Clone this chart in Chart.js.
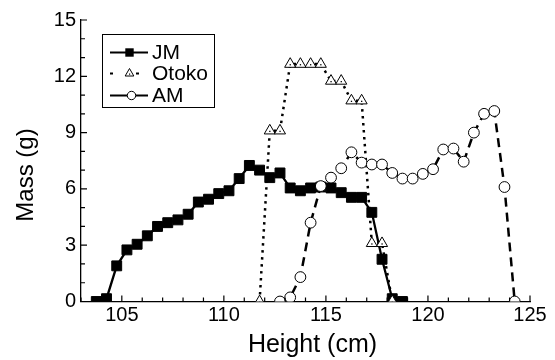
<!DOCTYPE html>
<html><head><meta charset="utf-8">
<script src="https://cdn.jsdelivr.net/npm/chart.js@4.4.1/dist/chart.umd.min.js"></script>
<style>html,body{margin:0;padding:0;background:#fff;}canvas{display:block;}</style>
</head><body>
<canvas id="c" width="555" height="360"></canvas>
<script>
const seriesNames = ['JM', 'Otoko', 'AM'];
const jmHeight = [103.75,104.25,104.75,105.25,105.75,106.25,106.75,107.25,107.75,108.25,108.75,109.25,109.75,110.25,110.75,111.25,111.75,112.25,112.75,113.25,113.75,114.25,114.75,115.25,115.75,116.25,116.75,117.25,117.75,118.25,118.75];
const jmMass = [0,0.15,1.9,2.75,3.05,3.5,4.0,4.2,4.35,4.65,5.3,5.45,5.75,5.9,6.55,7.25,7.0,6.6,6.85,6.05,5.9,6.05,6.1,6.05,5.8,5.55,5.55,4.75,2.25,0.15,0];
const otokoHeight = [111.75,112.25,112.75,113.25,113.75,114.25,114.75,115.25,115.75,116.25,116.75,117.25,117.75,118.25];
const otokoMass = [0,9.1,9.1,12.65,12.65,12.65,12.65,11.75,11.75,10.7,10.7,3.1,3.1,0];
const amHeight = [112.75,113.25,113.75,114.25,114.75,115.25,115.75,116.25,116.75,117.25,117.75,118.25,118.75,119.25,119.75,120.25,120.75,121.25,121.75,122.25,122.75,123.25,123.75,124.25];
const amMass = [0,0.22,1.3,4.2,6.15,6.6,7.1,7.95,7.4,7.3,7.3,6.85,6.55,6.55,6.8,7.05,8.1,8.15,7.45,9.0,10.0,10.15,6.1,0];
const xTickLabels = [105,110,115,120,125];
const yTickLabels = [0,3,6,9,12,15];
const xTitle = 'Height (cm)';
const yTitle = 'Mass (g)';

const FONT = '"Liberation Sans", Arial, sans-serif';
const pts = (xs, ys) => xs.map((x, i) => ({x: x, y: ys[i]}));
const bottomClip = {left: false, top: false, right: false, bottom: 0};

const inwardTicks = {
  id: 'inwardTicks',
  afterDraw(chart) {
    const ctx = chart.ctx, xs = chart.scales.x, ys = chart.scales.y, a = chart.chartArea;
    ctx.save();
    ctx.strokeStyle = '#000'; ctx.lineWidth = 1.2;
    ctx.beginPath();
    for (let v = ys.min; v <= ys.max; v += 1) {
      const p = ys.getPixelForValue(v);
      const len = yTickLabels.includes(v) ? 6 : 4;
      ctx.moveTo(a.left, p); ctx.lineTo(a.left + len, p);
    }
    for (let v = xs.min; v <= xs.max; v += 1) {
      const p = xs.getPixelForValue(v);
      const len = xTickLabels.includes(v) ? 6 : 4;
      ctx.moveTo(p, a.bottom); ctx.lineTo(p, a.bottom - len);
    }
    ctx.stroke();
    ctx.fillStyle = '#000';
    ctx.font = '25px ' + FONT;
    ctx.textAlign = 'center'; ctx.textBaseline = 'alphabetic';
    ctx.fillText(xTitle, 312.5, 351.5);
    ctx.save();
    ctx.translate(26, 175); ctx.rotate(-Math.PI / 2);
    ctx.font = '24px ' + FONT; ctx.textBaseline = 'middle';
    ctx.fillText(yTitle, 0, 0);
    ctx.restore();
    ctx.restore();
  }
};

const triDots = {
  id: 'triDots',
  afterDatasetsDraw(chart) {
    const ctx = chart.ctx, a = chart.chartArea;
    const meta = chart.getDatasetMeta(1);
    ctx.save();
    ctx.beginPath(); ctx.rect(a.left, 0, a.right - a.left + 20, a.bottom); ctx.clip();
    ctx.fillStyle = '#000';
    meta.data.forEach(pt => { ctx.fillRect(pt.x - 0.6, pt.y, 1.3, 1.3); });
    ctx.restore();
  }
};

const boxLegend = {
  id: 'boxLegend',
  afterDraw(chart) {
    const ctx = chart.ctx;
    ctx.save();
    ctx.fillStyle = '#fff';
    ctx.fillRect(102.5, 34.5, 112, 73);
    ctx.strokeStyle = '#000'; ctx.lineWidth = 1;
    ctx.strokeRect(102.5, 34.5, 112, 73);
    const rows = [52.5, 73.5, 95.5];
    const mx = 129.5;
    ctx.lineWidth = 2.2; ctx.beginPath(); ctx.moveTo(110, rows[0]); ctx.lineTo(148, rows[0]); ctx.stroke();
    ctx.fillStyle = '#000'; ctx.fillRect(mx - 4.2, rows[0] - 4.2, 8.4, 8.4);
    ctx.setLineDash([3, 23]); ctx.lineWidth = 2.2;
    ctx.beginPath(); ctx.moveTo(110, rows[1]); ctx.lineTo(148, rows[1]); ctx.stroke();
    ctx.setLineDash([]);
    const r = 5;
    ctx.beginPath();
    ctx.moveTo(mx, rows[1] - r); ctx.lineTo(mx + r * 0.866, rows[1] + r / 2); ctx.lineTo(mx - r * 0.866, rows[1] + r / 2); ctx.closePath();
    ctx.fillStyle = '#fff'; ctx.fill(); ctx.lineWidth = 1; ctx.stroke();
    ctx.fillStyle = '#000'; ctx.fillRect(mx - 0.5, rows[1], 1.2, 1.2);
    ctx.lineWidth = 2.2; ctx.beginPath(); ctx.moveTo(110, rows[2]); ctx.lineTo(148, rows[2]); ctx.stroke();
    ctx.beginPath(); ctx.arc(mx + 2, rows[2], 4.2, 0, Math.PI * 2);
    ctx.fillStyle = '#fff'; ctx.fill(); ctx.lineWidth = 1; ctx.stroke();
    ctx.fillStyle = '#000'; ctx.font = '21px ' + FONT;
    ctx.textAlign = 'left'; ctx.textBaseline = 'middle';
    seriesNames.forEach((n, i) => ctx.fillText(n, 152, rows[i] + 1));
    ctx.restore();
  }
};

new Chart(document.getElementById('c'), {
  type: 'scatter',
  data: {
    datasets: [
      {label: seriesNames[0], data: pts(jmHeight, jmMass), showLine: true, order: 3, clip: bottomClip,
       borderColor: '#000', borderWidth: 2.3, tension: 0,
       pointStyle: 'rect', pointRadius: 7, pointBackgroundColor: '#000', pointBorderColor: '#000', pointBorderWidth: 1},
      {label: seriesNames[1], data: pts(otokoHeight, otokoMass), showLine: true, order: 2, clip: bottomClip,
       borderColor: '#000', borderWidth: 2.5, borderDash: [2.5, 4.5], tension: 0,
       pointStyle: 'triangle', pointRadius: 6.4, pointBackgroundColor: '#fff', pointBorderColor: '#000', pointBorderWidth: 1},
      {label: seriesNames[2], data: pts(amHeight, amMass), showLine: true, order: 1, clip: bottomClip,
       borderColor: '#000', borderWidth: 2.5, borderDash: [9, 6], tension: 0,
       pointStyle: 'circle', pointRadius: 5.4, pointBackgroundColor: '#fff', pointBorderColor: '#000', pointBorderWidth: 1}
    ]
  },
  options: {
    responsive: false, animation: false, devicePixelRatio: 1,
    layout: {padding: {left: 0, top: 20, right: 25, bottom: 0}},
    plugins: {legend: {display: false}, tooltip: {enabled: false}},
    scales: {
      x: {
        type: 'linear', min: 103, max: 125,
        afterBuildTicks: s => { s.ticks = xTickLabels.map(v => ({value: v})); },
        afterFit: s => { s.height = 58.5; },
        grid: {display: true, drawOnChartArea: false, drawTicks: false},
        border: {display: true, color: '#000', width: 1.3},
        ticks: {color: '#000', font: {family: FONT, size: 20}, padding: 2, maxRotation: 0}
      },
      y: {
        type: 'linear', min: 0, max: 15,
        afterBuildTicks: s => { s.ticks = yTickLabels.map(v => ({value: v})); },
        afterFit: s => { s.width = 81; },
        grid: {display: true, drawOnChartArea: false, drawTicks: false},
        border: {display: true, color: '#000', width: 1.3},
        ticks: {color: '#000', font: {family: FONT, size: 20}, padding: 5}
      }
    }
  },
  plugins: [inwardTicks, triDots, boxLegend]
});
</script>
</body></html>
